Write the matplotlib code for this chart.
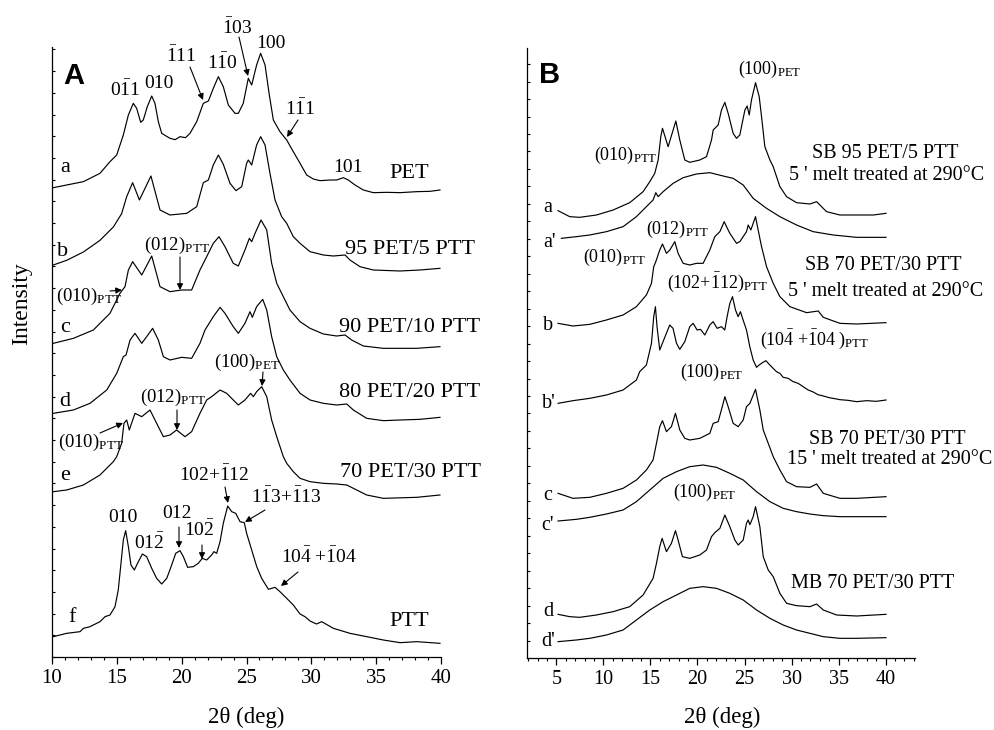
import matplotlib
matplotlib.use("Agg")
import matplotlib.pyplot as plt
from matplotlib.ticker import MultipleLocator
import numpy as np

# ---------------- data: panel A (2theta in deg, intensity in a.u., curves stacked) ----------
A_a_x = [10.10, 11.13, 12.42, 13.70, 14.47, 14.99, 15.50, 15.89, 16.27, 16.53, 16.84, 17.04, 17.35, 17.69,
         17.94, 18.20, 18.46, 19.10, 19.50, 19.87, 20.30, 20.64, 21.16, 21.67, 22.06, 22.44, 22.83, 23.21,
         23.60, 24.11, 24.37, 24.75, 25.14, 25.40, 25.78, 26.09, 26.43, 26.76, 27.07, 27.58, 28.10, 28.61,
         29.13, 29.64, 30.15, 30.67, 31.44, 31.95, 32.47, 32.85, 33.37, 34.01, 34.78, 35.81, 36.84, 38.12,
         39.15, 39.92]
A_a_y = [1408, 1416, 1426, 1451, 1486, 1506, 1566, 1626, 1661, 1646, 1604, 1611, 1651, 1683,
         1661, 1606, 1571, 1556, 1552, 1561, 1558, 1571, 1606, 1661, 1668, 1706, 1741, 1711,
         1656, 1631, 1631, 1661, 1736, 1716, 1776, 1811, 1776, 1686, 1611, 1576, 1551, 1516,
         1481, 1446, 1434, 1429, 1431, 1431, 1438, 1431, 1416, 1401, 1393, 1394, 1393, 1396,
         1397, 1401]

A_b_x = [10.10, 11.13, 12.42, 13.70, 14.73, 15.37, 15.76, 16.22, 16.74, 17.63, 18.33, 19.10, 20.39, 21.16,
         21.67, 22.06, 22.44, 22.83, 23.21, 23.73, 24.19, 24.63, 25.01, 25.14, 25.40, 25.78, 26.09, 26.43,
         26.81, 27.20, 27.71, 28.10, 28.61, 29.13, 29.90, 30.93, 31.70, 32.60, 32.98, 33.75, 34.78, 36.84,
         38.38, 39.92]
A_b_y = [1176, 1190, 1215, 1250, 1290, 1330, 1381, 1423, 1371, 1443, 1341, 1326, 1331, 1351,
         1423, 1431, 1476, 1506, 1478, 1421, 1399, 1411, 1481, 1491, 1476, 1536, 1561, 1536,
         1451, 1371, 1321, 1301, 1261, 1241, 1216, 1206, 1203, 1206, 1191, 1171, 1161, 1158,
         1161, 1166]

A_c_x = [10.10, 11.65, 13.19, 14.47, 15.24, 15.63, 15.89, 16.22, 16.92, 17.69, 18.33, 19.10, 20.00, 20.77,
         21.41, 21.80, 22.44, 22.88, 23.34, 23.98, 24.37, 24.88, 25.22, 25.40, 25.66, 26.12, 26.56, 26.94,
         27.33, 27.84, 28.35, 29.13, 29.90, 30.93, 31.95, 32.60, 33.11, 34.01, 35.55, 38.12, 39.92]
A_c_y = [941, 956, 981, 1031, 1091, 1111, 1161, 1186, 1146, 1203, 1111, 1096, 1101, 1101,
         1161, 1191, 1241, 1261, 1231, 1181, 1173, 1221, 1256, 1246, 1271, 1311, 1281, 1181,
         1121, 1081, 1041, 1006, 986, 969, 963, 966, 951, 933, 926, 926, 931]

A_d_x = [10.10, 11.65, 12.93, 14.22, 14.99, 15.50, 15.71, 16.02, 16.40, 16.92, 17.30, 17.76, 18.20, 18.59,
         19.10, 20.00, 20.77, 21.41, 21.80, 22.44, 22.96, 23.34, 23.98, 24.37, 24.88, 25.27, 25.45, 25.78,
         26.25, 26.56, 26.94, 27.33, 27.84, 28.35, 29.13, 29.90, 30.93, 31.95, 32.73, 33.24, 34.27, 35.55,
         36.84, 38.38, 39.92]
A_d_y = [731, 741, 761, 801, 851, 901, 906, 951, 971, 941, 961, 986, 951, 901,
         891, 899, 896, 941, 981, 1021, 1049, 1031, 991, 971, 1001, 1036, 1019, 1051,
         1073, 1041, 961, 901, 861, 831, 791, 771, 761, 756, 759, 741, 716, 709,
         711, 713, 719]

A_e_x = [10.10, 11.13, 12.42, 13.70, 14.73, 14.99, 15.37, 15.55, 15.76, 15.96, 16.40, 16.92, 17.56, 18.07,
         18.59, 19.10, 19.61, 20.26, 20.77, 21.41, 21.93, 22.31, 22.96, 23.47, 23.98, 24.37, 24.88, 25.32,
         25.53, 25.78, 26.17, 26.56, 26.94, 27.33, 27.84, 28.10, 28.61, 29.13, 29.90, 30.93, 31.95, 32.73,
         33.50, 34.27, 35.55, 38.12, 39.92]
A_e_y = [496, 501, 516, 546, 586, 601, 641, 701, 711, 681, 731, 721, 741, 701,
         661, 666, 681, 661, 676, 731, 771, 781, 801, 791, 771, 756, 771, 791,
         781, 796, 811, 781, 711, 661, 601, 581, 556, 536, 526, 521, 519, 516,
         501, 486, 476, 479, 486]

A_f_x = [10.10, 11.13, 12.16, 12.42, 12.93, 13.70, 14.09, 14.47, 14.86, 15.11, 15.32, 15.50, 15.68, 15.89,
         16.09, 16.35, 16.66, 16.97, 17.30, 17.69, 18.07, 18.46, 18.85, 19.23, 19.54, 19.87, 20.13, 20.46,
         20.90, 21.28, 21.59, 21.93, 22.31, 22.49, 22.70, 22.96, 23.21, 23.55, 23.86, 24.17, 24.50, 24.83,
         25.01, 25.40, 25.79, 26.17, 26.69, 27.20, 27.58, 28.10, 28.61, 29.13, 29.51, 29.90, 30.40, 30.80,
         31.70, 32.98, 34.27, 35.55, 36.84, 38.12, 39.92]
A_f_y = [61, 71, 76, 86, 91, 106, 121, 126, 151, 201, 281, 351, 379, 331,
         276, 261, 286, 309, 301, 266, 236, 219, 236, 276, 311, 319, 301, 269,
         271, 281, 296, 291, 306, 316, 311, 346, 401, 453, 436, 431, 406, 403,
         371, 321, 271, 236, 203, 209, 196, 176, 156, 129, 121, 108, 99, 106,
         86, 71, 61, 51, 43, 46, 41]

# ---------------- data: panel B ----------------
B_a_x = [5.18, 6.42, 7.48, 9.26, 11.03, 12.80, 14.22, 14.93, 15.46, 15.82, 16.10, 16.28, 16.88, 17.70,
         18.12, 18.65, 19.18, 20.25, 20.96, 21.49, 21.67, 22.20, 22.55, 22.91, 23.26, 23.79, 24.15, 24.50,
         25.04, 25.28, 25.50, 25.74, 26.17, 26.56, 26.81, 27.16, 27.70, 28.05, 28.76, 29.47, 30.53, 31.95,
         32.66, 33.01, 33.72, 35.14, 36.91, 38.69, 40.04]
B_a_y = [1342, 1324, 1322, 1329, 1344, 1366, 1399, 1429, 1454, 1494, 1564, 1589, 1534, 1611,
         1554, 1494, 1487, 1494, 1504, 1554, 1584, 1599, 1644, 1667, 1634, 1574, 1559, 1569,
         1644, 1656, 1629, 1674, 1726, 1684, 1624, 1534, 1494, 1474, 1414, 1384, 1366, 1362,
         1369, 1359, 1339, 1329, 1329, 1329, 1334]

B_a2_x = [5.53, 7.13, 8.55, 10.32, 12.09, 13.51, 14.57, 15.28, 15.57, 15.82, 16.35, 17.41, 18.48, 19.89,
          21.31, 22.73, 23.79, 24.86, 25.92, 27.34, 28.76, 30.53, 32.30, 34.43, 36.91, 40.04]
B_a2_y = [1259, 1264, 1269, 1279, 1294, 1324, 1354, 1374, 1396, 1384, 1399, 1424, 1441, 1452,
          1456, 1446, 1439, 1419, 1379, 1349, 1324, 1299, 1279, 1269, 1262, 1262]

B_b_x = [5.18, 6.77, 8.55, 10.32, 12.09, 13.51, 14.57, 15.11, 15.35, 15.57, 15.99, 16.28, 16.70, 17.06,
         17.59, 17.94, 18.48, 19.18, 19.89, 20.60, 21.31, 21.84, 22.38, 22.84, 23.26, 23.44, 24.15, 24.50,
         25.21, 25.39, 25.67, 26.17, 26.45, 26.81, 27.34, 28.05, 28.76, 29.82, 31.60, 32.84, 33.37, 35.14,
         36.91, 40.04]
B_b_y = [1004, 996, 1001, 1014, 1029, 1054, 1089, 1124, 1174, 1189, 1224, 1242, 1214, 1224,
         1249, 1214, 1184, 1179, 1184, 1184, 1224, 1264, 1279, 1309, 1284, 1274, 1244, 1249,
         1279, 1299, 1284, 1324, 1284, 1234, 1174, 1124, 1084, 1054, 1036, 1041, 1022, 1004,
         1002, 1006]

B_b2_x = [5.18, 6.77, 8.55, 10.32, 12.09, 13.51, 13.86, 14.57, 15.11, 15.35, 15.53, 15.70, 15.99, 16.41,
          17.05, 17.40, 17.77, 18.12, 18.65, 19.18, 19.54, 19.96, 20.32, 20.78, 21.31, 21.66, 22.09, 22.55,
          22.90, 23.15, 23.44, 23.72, 24.04, 24.32, 24.57, 24.85, 25.21, 25.56, 25.92, 26.28, 26.55, 26.91,
          27.27, 27.69, 28.04, 28.40, 28.76, 29.11, 29.64, 30.17, 30.70, 31.23, 31.77, 32.30, 32.80, 33.37,
          34.00, 34.60, 35.14, 36.00, 36.91, 38.00, 39.00, 40.04]
B_b2_y = [764, 772, 779, 789, 804, 834, 859, 879, 944, 1024, 1054, 994, 924, 954,
          999, 989, 944, 926, 949, 994, 1004, 984, 986, 969, 999, 1009, 989, 994,
          984, 1024, 1064, 1084, 1044, 1024, 1039, 1014, 984, 934, 894, 872, 879, 886,
          892, 879, 869, 859, 854, 842, 839, 829, 824, 814, 804, 798, 790, 786,
          781, 778, 775, 773, 769, 772, 770, 774]

B_c_x = [5.18, 6.77, 8.55, 10.32, 12.09, 13.51, 14.57, 15.28, 15.64, 15.99, 16.28, 16.70, 17.23, 17.66,
         18.12, 18.65, 19.18, 20.25, 21.31, 21.67, 22.20, 22.73, 22.91, 23.26, 23.79, 24.33, 24.86, 25.21,
         25.57, 26.17, 26.63, 26.99, 27.52, 28.05, 28.76, 29.47, 30.53, 31.95, 32.66, 33.37, 35.14, 36.91,
         40.04]
B_c_y = [494, 479, 482, 494, 509, 534, 564, 594, 644, 694, 712, 679, 694, 734,
         684, 659, 654, 659, 674, 704, 709, 764, 784, 754, 704, 694, 714, 754,
         764, 806, 744, 684, 644, 604, 564, 529, 514, 512, 522, 494, 479, 479,
         484]

B_amorph_x = [5.18, 7.13, 8.55, 10.32, 12.09, 13.51, 14.93, 16.35, 17.77, 19.18, 20.60, 22.02, 23.44,
              24.86, 26.28, 27.70, 29.11, 30.53, 31.95, 33.37, 35.14, 36.91, 40.04]
B_c2_y = [411, 416, 422, 432, 444, 469, 504, 539, 559, 574, 579, 572, 554,
          534, 499, 469, 449, 439, 432, 427, 424, 424, 424]

B_d_x = [5.18, 6.42, 7.48, 9.26, 11.03, 12.80, 14.22, 15.28, 15.64, 15.99, 16.24, 16.70, 17.23, 17.66,
         17.94, 18.40, 19.18, 20.25, 20.96, 21.49, 21.84, 22.38, 22.91, 23.44, 23.97, 24.33, 24.86, 25.21,
         25.39, 25.57, 25.92, 26.17, 26.63, 26.99, 27.52, 28.05, 28.76, 29.47, 30.53, 31.95, 32.66, 33.37,
         34.79, 36.91, 40.04]
B_d_y = [131, 124, 122, 129, 139, 154, 189, 239, 284, 334, 359, 319, 344, 382,
         354, 304, 299, 309, 324, 364, 376, 389, 429, 394, 354, 339, 354, 404,
         414, 400, 424, 454, 394, 304, 264, 244, 194, 164, 157, 154, 162, 144,
         129, 126, 131]

B_d2_y = [49, 54, 59, 69, 84, 114, 144, 169, 189, 209, 214, 209, 194,
          174, 144, 119, 99, 84, 74, 64, 59, 59, 61]

A_xticks = [10, 15, 20, 25, 30, 35, 40]
B_xticks = [5, 10, 15, 20, 25, 30, 35, 40]

# ---------------- figure ----------------
plt.rcParams['font.family'] = ['Liberation Serif', 'DejaVu Serif']
plt.rcParams['mathtext.fontset'] = 'custom'
plt.rcParams['mathtext.rm'] = 'Liberation Serif'
plt.rcParams['mathtext.it'] = 'Liberation Serif:italic'
plt.rcParams['mathtext.bf'] = 'Liberation Serif:bold'

W, H = 994, 730
fig = plt.figure(figsize=(W / 100, H / 100), dpi=100)


def P(x, y):
    return (x / W, 1 - y / H)


axA = fig.add_axes([52 / W, 1 - 657 / H, 389 / W, 610 / H])
axB = fig.add_axes([527 / W, 1 - 658 / H, 388 / W, 610 / H])


def style(ax, xlim, xticks, ystep, fs):
    ax.set_xlim(*xlim)
    ax.set_ylim(0, 1830)
    for s in ('top', 'right'):
        ax.spines[s].set_visible(False)
    for s in ('left', 'bottom'):
        ax.spines[s].set_linewidth(0.9)
    ax.set_xticks(xticks)
    ax.xaxis.set_minor_locator(MultipleLocator(1))
    ax.set_yticks(np.arange(0, 1830, ystep))
    ax.tick_params(axis='x', which='major', direction='out', length=4.7, width=0.9,
                   labelsize=fs, pad=4)
    ax.tick_params(axis='x', which='minor', direction='out', length=2.5, width=0.8)
    ax.tick_params(axis='y', which='major', direction='in', length=2.0, width=0.8,
                   labelleft=False)


style(axA, (10, 40), A_xticks, 65.1, 15)
style(axB, (1.88, 43.12), B_xticks, 52.4, 14.5)

lw = 0.85
for xs, ys in [(A_a_x, A_a_y), (A_b_x, A_b_y), (A_c_x, A_c_y), (A_d_x, A_d_y),
               (A_e_x, A_e_y), (A_f_x, A_f_y)]:
    axA.plot(xs, ys, color='black', lw=lw)
for xs, ys in [(B_a_x, B_a_y), (B_a2_x, B_a2_y), (B_b_x, B_b_y), (B_b2_x, B_b2_y),
               (B_c_x, B_c_y), (B_amorph_x, B_c2_y), (B_d_x, B_d_y), (B_amorph_x, B_d2_y)]:
    axB.plot(xs, ys, color='black', lw=lw)


def T(x, y, s, size=14, **kw):
    fig.text(*P(x, y), s, fontsize=size, ha=kw.pop('ha', 'center'), va=kw.pop('va', 'center'), **kw)


def ARR(x0, y0, x1, y1):
    axA.annotate('', xy=P(x1, y1), xycoords='figure fraction', xytext=P(x0, y0),
                 textcoords='figure fraction', annotation_clip=False,
                 arrowprops=dict(arrowstyle='-|>', color='black', lw=0.8,
                                 mutation_scale=9, shrinkA=0, shrinkB=0))


# panel letters
T(74, 76, 'A', 21, family='Liberation Sans', weight='bold')
T(550, 75, 'B', 21, family='Liberation Sans', weight='bold')

# axis labels
T(22, 304, 'Intensity', 17, rotation=90)
T(246, 717, '2θ (deg)', 16.5)
T(722, 717, '2θ (deg)', 16.5)

# ---- panel A annotations
T(125, 90, r'$0\bar{1}1$', 14)
T(159, 84, '010', 14)
T(181, 56, r'$\bar{1}11$', 14)
T(222, 63, r'$1\bar{1}0$', 14)
T(237, 28, r'$\bar{1}03$', 14)
T(271, 43, '100', 14)
T(300, 109, r'$1\bar{1}1$', 14)
T(348, 168, '101', 14)
ARR(190, 67, 203, 100)
ARR(239, 37, 248, 76)
ARR(298, 120, 287, 137)

T(409, 174, 'PET', 16)
T(65, 168, 'a', 16)
T(63, 252, 'b', 16)
T(410, 249, '95 PET/5 PTT', 16)
T(177, 245, r'$(012)_{\mathrm{PTT}}$', 13.5)
ARR(180, 257, 180, 290)
T(89, 296, r'$(010)_{\mathrm{PTT}}$', 13.5)
ARR(110, 291, 122, 290)
T(65, 328, 'c', 16)
T(410, 327, '90 PET/10 PTT', 16)
T(247, 362, r'$(100)_{\mathrm{PET}}$', 13.5)
ARR(263, 372, 262, 386)
T(65, 402, 'd', 16)
T(410, 393, '80 PET/20 PTT', 16)
T(173, 397, r'$(012)_{\mathrm{PTT}}$', 13.5)
ARR(177, 410, 177, 430)
T(91, 442, r'$(010)_{\mathrm{PTT}}$', 13.5)
ARR(100, 433, 123, 423)
T(65, 475, 'e', 16)
T(410, 473, '70 PET/30 PTT', 16)
T(214, 475, r'$102{+}\bar{1}12$', 14)
ARR(225, 487, 228, 503)
T(286, 497, r'$1\bar{1}3{+}\bar{1}13$', 14)
ARR(265, 510, 245, 522)
T(123, 517, '010', 14)
T(149, 543, r'$01\bar{2}$', 14)
T(177, 514, '012', 14)
ARR(179, 527, 179, 548)
T(199, 530, r'$10\bar{2}$', 14)
ARR(202, 545, 202, 559)
T(319, 557, r'$10\bar{4}\ {+}\bar{1}04$', 14)
ARR(298, 572, 281, 586)
T(72, 617, 'f', 16)
T(409, 622, 'PTT', 16)

# ---- panel B annotations
T(770, 69, r'$(100)_{\mathrm{PET}}$', 13)
T(626, 155, r'$(010)_{\mathrm{PTT}}$', 13)
ARR(637, 163, 647, 177)
T(885, 153, 'SB 95 PET/5 PTT', 14.5)
T(887, 176, "5 ' melt treated at 290°C", 14.5)
T(548, 207, 'a', 14.5)
T(549, 242, "a'", 14.5)
T(678, 229, r'$(012)_{\mathrm{PTT}}$', 13)
ARR(696, 240, 696, 258)
T(615, 257, r'$(010)_{\mathrm{PTT}}$', 13)
ARR(642, 260, 656, 263)
T(883, 265, 'SB 70 PET/30 PTT', 14.5)
T(886, 291, "5 ' melt treated at 290°C", 14.5)
T(717, 282, r'$(102{+}\bar{1}12)_{\mathrm{PTT}}$', 13)
ARR(722, 287, 729, 300)
T(548, 325, 'b', 14.5)
T(815, 339, r'$(10\bar{4}\ {+}\bar{1}04\ )_{\mathrm{PTT}}$', 13)
ARR(776, 351, 765, 361)
T(549, 403, "b'", 14.5)
T(712, 372, r'$(100)_{\mathrm{PET}}$', 13)
ARR(737, 382, 753, 393)
T(887, 440, 'SB 70 PET/30 PTT', 14.5)
T(890, 460, "15 ' melt treated at 290°C", 14.5)
T(548, 495, 'c', 14.5)
T(548, 525, "c'", 14.5)
T(705, 492, r'$(100)_{\mathrm{PET}}$', 13)
ARR(740, 497, 753, 507)
T(873, 584, 'MB 70 PET/30 PTT', 14.5)
T(548, 612, 'd', 14.5)
T(548, 642, "d'", 14.5)

fig.savefig('out.png', dpi=100)
